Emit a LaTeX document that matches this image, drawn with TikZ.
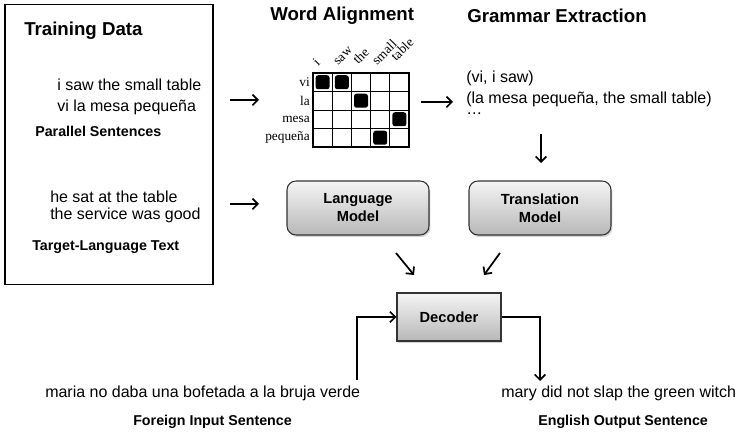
\documentclass[tikz,border=0pt]{standalone}
\usepackage{fontspec}
\setmainfont{Liberation Sans}
\newfontfamily\gridserif{Liberation Serif}
\usetikzlibrary{arrows.meta,shadows}
\begin{document}
\begin{tikzpicture}[x=0.75pt,y=-0.75pt,
  txt/.style={anchor=west,inner sep=0pt,font=\fontsize{12pt}{14pt}\selectfont},
  lbl/.style={anchor=west,inner sep=0pt,font=\fontsize{10.7pt}{12pt}\selectfont\bfseries},
  hdr/.style={anchor=west,inner sep=0pt,font=\fontsize{14pt}{16pt}\selectfont\bfseries},
  arr/.style={line width=1.3pt,-{Straight Barb[length=4pt,width=8pt]}},
  model/.style={draw=black!80,line width=0.8pt,rounded corners=6.75pt,top color=black!4,bottom color=black!28,
     minimum width=106.5pt,minimum height=40.5pt,align=center,
     font=\fontsize{11pt}{13.5pt}\selectfont\bfseries,
     drop shadow={shadow xshift=1pt,shadow yshift=-1.5pt,opacity=0.35}},
  dec/.style={draw=black!80,line width=0.8pt,top color=black!4,bottom color=black!28,
     minimum width=78pt,minimum height=36pt,
     font=\fontsize{11pt}{13pt}\selectfont\bfseries,
     drop shadow={shadow xshift=1pt,shadow yshift=-1.5pt,opacity=0.35}},
  rowl/.style={anchor=east,inner sep=0pt,font=\gridserif\fontsize{10pt}{11pt}\selectfont},
  coll/.style={anchor=base west,inner sep=0pt,rotate=45,font=\gridserif\fontsize{10pt}{11pt}\selectfont},
  blk/.style={fill=black,rounded corners=1.9pt,minimum size=10.5pt,inner sep=0pt}
]
\useasboundingbox (0,0) rectangle (736,434);

% Training data box
\node[draw,line width=1pt,minimum width=156pt,minimum height=210pt,inner sep=0pt] (train) at (109,144.5) {};
\node[anchor=west,inner sep=0pt,font=\fontsize{14pt}{16pt}\selectfont\bfseries] (tdh) at (24,31) {Training Data};
\node[txt] (p1) at (57,85) {i saw the small table};
\node[txt] (p2) at (57,107.5) {vi la mesa pequeña};
\node[lbl] (pl) at (35,131) {Parallel Sentences};
\node[txt] (t1) at (50,197) {he sat at the table};
\node[txt] (t2) at (50,215.5) {the service was good};
\node[lbl] (tl) at (32,247) {Target-Language Text};

% headers
\node[hdr] (wa) at (270,15.5) {Word Alignment};
\node[hdr] (ge) at (467,15.5) {Grammar Extraction};

% alignment grid
\node[draw,line width=0.8pt,minimum width=72pt,minimum height=55.5pt,inner sep=0pt] (grid) at (361,110) {};
\foreach \i in {1,...,4} \draw[line width=0.6pt] (313+19.2*\i,73) -- (313+19.2*\i,147);
\foreach \j in {1,...,3} \draw[line width=0.6pt] (313,73+18.5*\j) -- (409,73+18.5*\j);
\node[rowl] (r1) at (310,82.25) {vi};
\node[rowl] (r2) at (310,100.75) {la};
\node[rowl] (r3) at (310,119.25) {mesa};
\node[rowl] (r4) at (310,137.75) {pequeña};
\node[coll] (c1) at (318,67) {i};
\node[coll] (c2) at (338,66) {saw};
\node[coll] (c3) at (358,65) {the};
\node[coll] (c4) at (377,66) {small};
\node[coll] (c5) at (396,62) {table};
\node[blk] (b1) at (322.6,82.25) {};
\node[blk] (b2) at (341.8,82.25) {};
\node[blk] (b3) at (361,100.75) {};
\node[blk] (b4) at (399.4,119.25) {};
\node[blk] (b5) at (380.2,137.75) {};

% grammar rules
\node[txt] (g1) at (466,78) {(vi, i saw)};
\node[txt] (g2) at (466,99) {(la mesa pequeña, the small table)};
\node[txt] (g3) at (466,114) {…};

% models
\node[model] (lm) at (358,208) {Language\\Model};
\node[model] (tm) at (540,208) {Translation\\Model};
\node[dec] (dec) at (449,317) {Decoder};

% bottom texts
\node[txt] (fin) at (45,393) {maria no daba una bofetada a la bruja verde};
\node[lbl] (finl) at (133,422) {Foreign Input Sentence};
\node[txt] (eout) at (501,393) {mary did not slap the green witch};
\node[lbl] (eoutl) at (538,422) {English Output Sentence};

% arrow coordinates
\coordinate (a1s) at (230,100); \coordinate (a1e) at (259,100);
\coordinate (a2s) at (230,204); \coordinate (a2e) at (259,204);
\coordinate (a3s) at (421,102); \coordinate (a3e) at (453,102);
\coordinate (a4s) at (541,134); \coordinate (a4e) at (541,163);
\coordinate (a5s) at (396,253); \coordinate (a5e) at (414,275);
\coordinate (a6s) at (500,253); \coordinate (a6e) at (484,275);
\coordinate (ins) at (357,380);
\coordinate (oute) at (540,381);

\draw[arr] (a1s) -- (a1e);
\draw[arr] (a2s) -- (a2e);
\draw[arr] (a3s) -- (a3e);
\draw[arr] (a4s) -- (a4e);
\draw[arr] (a5s) -- (a5e);
\draw[arr] (a6s) -- (a6e);
\draw[arr] (ins) |- (dec.west);
\draw[arr] (dec.east) -| (oute);
\end{tikzpicture}
\end{document}
